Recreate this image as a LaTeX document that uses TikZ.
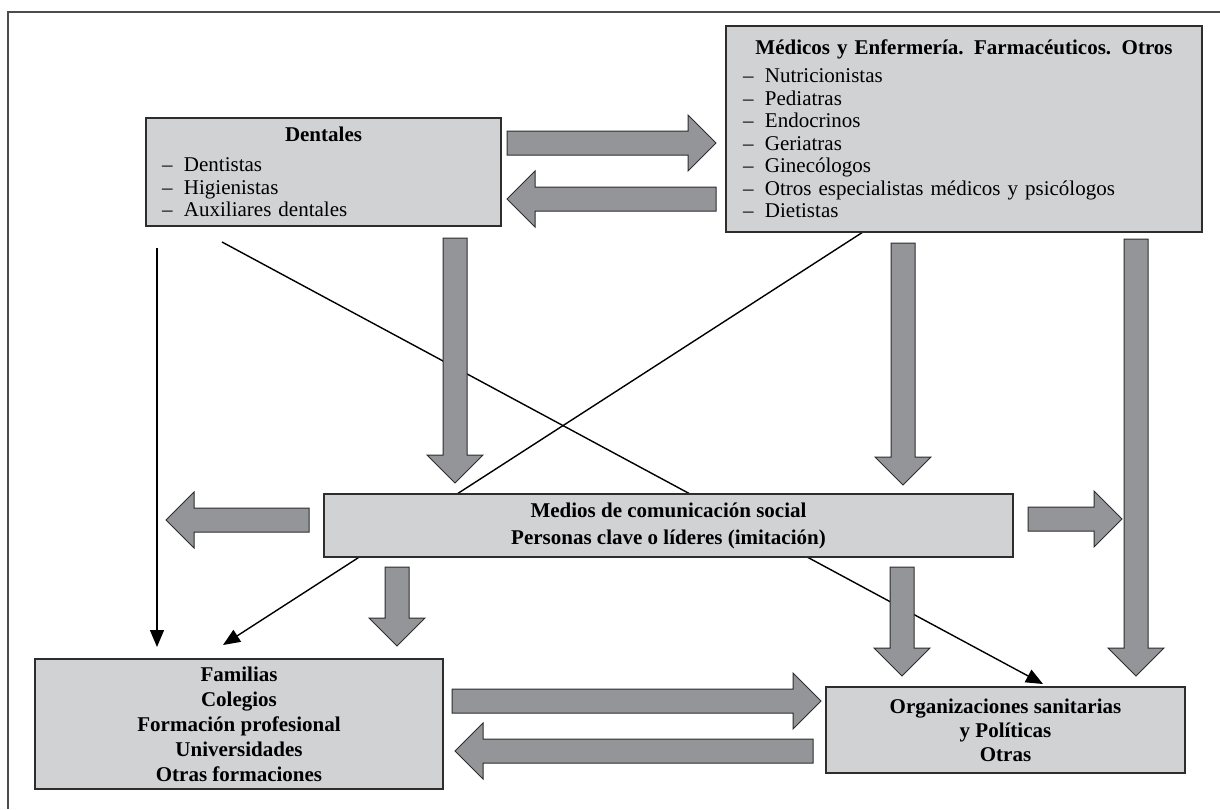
\documentclass[tikz,border=0pt]{standalone}
\usepackage{fontspec}
\setmainfont{Liberation Serif}
\usetikzlibrary{arrows.meta,calc,backgrounds}
\definecolor{boxgray}{RGB}{209,210,212}
\definecolor{arrowgray}{RGB}{148,149,153}
\definecolor{edgegray}{RGB}{45,45,45}
\newcommand{\dashitem}[1]{\makebox[11pt][l]{--}#1}
% fat block arrow from #1 to #2
\newcommand{\fatarrow}[2]{%
  \coordinate (fa-h) at ($(#2)!14pt!(#1)$);
  \draw[fatarrow] ($(#1)!6pt!90:(#2)$) -- ($(fa-h)!6pt!-90:(#1)$)
    -- ($(fa-h)!14pt!-90:(#1)$) -- (#2) -- ($(fa-h)!14pt!90:(#1)$)
    -- ($(fa-h)!6pt!90:(#1)$) -- ($(#1)!6pt!-90:(#2)$) -- cycle;}

\begin{document}
\begin{tikzpicture}[x=0.5pt,y=-0.5pt,
    box/.style={draw=edgegray, fill=boxgray, line width=0.7pt, inner sep=0pt,
      font=\fontsize{10.5}{11.25}\selectfont},
    fatarrow/.style={draw=edgegray, fill=arrowgray, line width=0.5pt, line join=miter},
    link/.style={line width=0.7pt, -{Triangle[length=8.5pt,width=7pt]}},
    frame/.style={draw=black!70, line width=1pt}]
    \useasboundingbox (0,0) rectangle (1220,809);

    % Frame
    \draw[frame] (1220,12) -- (8,12) -- (8,809);

    % Boxes
    \node[box, minimum width=177.5pt, minimum height=54pt, text width=161.5pt] (dentales) at (323.5,172)
        {\centering\textbf{Dentales}\par\vspace{3.75pt}\raggedright
         \dashitem{Dentistas}\\\dashitem{Higienistas}\\\dashitem{Auxiliares dentales}};
    \node[box, minimum width=238pt, minimum height=103pt, text width=221pt] (medicos) at (964,129)
        {\centering\textbf{Médicos y Enfermería. Farmacéuticos. Otros}\par\vspace{2.75pt}\raggedright
         \dashitem{Nutricionistas}\\\dashitem{Pediatras}\\\dashitem{Endocrinos}\\\dashitem{Geriatras}\\
         \dashitem{Ginecólogos}\\\dashitem{Otros especialistas médicos y psicólogos}\\\dashitem{Dietistas}};
    \node[box, minimum width=344.5pt, minimum height=31.5pt, align=center,
        font=\bfseries\fontsize{10.5}{13.5}\selectfont] (medios) at (668.5,525.5)
        {Medios de comunicación social\\Personas clave o líderes (imitación)};
    \node[box, minimum width=204pt, minimum height=65pt, align=center,
        font=\bfseries\fontsize{10.5}{12.5}\selectfont] (familias) at (239,724)
        {Familias\\Colegios\\Formación profesional\\Universidades\\Otras formaciones};
    \node[box, minimum width=179.5pt, minimum height=43pt, align=center,
        font=\bfseries\fontsize{10.5}{12}\selectfont] (organiz) at (1005.5,730)
        {Organizaciones sanitarias\\y Políticas\\Otras};

    \begin{scope}[on background layer]
        % Ends of the thin links
        \coordinate (med-fam-s) at (863,232);  \coordinate (med-fam-e) at (223,645);
        \coordinate (dent-org-s) at (222,242); \coordinate (dent-org-e) at (1043,684);
        \coordinate (dent-fam-s) at (157,248); \coordinate (dent-fam-e) at (157,647);

        \draw[link] (med-fam-s) -- (med-fam-e);
        \draw[link] (dent-org-s) -- (dent-org-e);
        \draw[link] (dent-fam-s) -- (dent-fam-e);

        % Ends of the block arrows
        \coordinate (dent-med-s) at (507,143);   \coordinate (dent-med-e) at (716,143);
        \coordinate (med-dent-s) at (716,199);   \coordinate (med-dent-e) at (507,199);
        \coordinate (dent-mds-s) at (455,238);   \coordinate (dent-mds-e) at (455,483);
        \coordinate (med-mds-s) at (903,243);    \coordinate (med-mds-e) at (903,485);
        \coordinate (mds-left-s) at (309,520);   \coordinate (mds-left-e) at (166,520);
        \coordinate (mds-right-s) at (1028,519); \coordinate (mds-right-e) at (1122,519);
        \coordinate (med-org-s) at (1136,239);   \coordinate (med-org-e) at (1136,676);
        \coordinate (mds-fam-s) at (397,567);    \coordinate (mds-fam-e) at (397,646);
        \coordinate (mds-org-s) at (902,567);    \coordinate (mds-org-e) at (902,676);
        \coordinate (fam-org-s) at (452,701);    \coordinate (fam-org-e) at (821,701);
        \coordinate (org-fam-s) at (813,751);    \coordinate (org-fam-e) at (455,751);

        \fatarrow{dent-med-s}{dent-med-e}
        \fatarrow{med-dent-s}{med-dent-e}
        \fatarrow{dent-mds-s}{dent-mds-e}
        \fatarrow{med-mds-s}{med-mds-e}
        \fatarrow{mds-left-s}{mds-left-e}
        \fatarrow{mds-right-s}{mds-right-e}
        \fatarrow{med-org-s}{med-org-e}
        \fatarrow{mds-fam-s}{mds-fam-e}
        \fatarrow{mds-org-s}{mds-org-e}
        \fatarrow{fam-org-s}{fam-org-e}
        \fatarrow{org-fam-s}{org-fam-e}
    \end{scope}
\end{tikzpicture}
\end{document}
